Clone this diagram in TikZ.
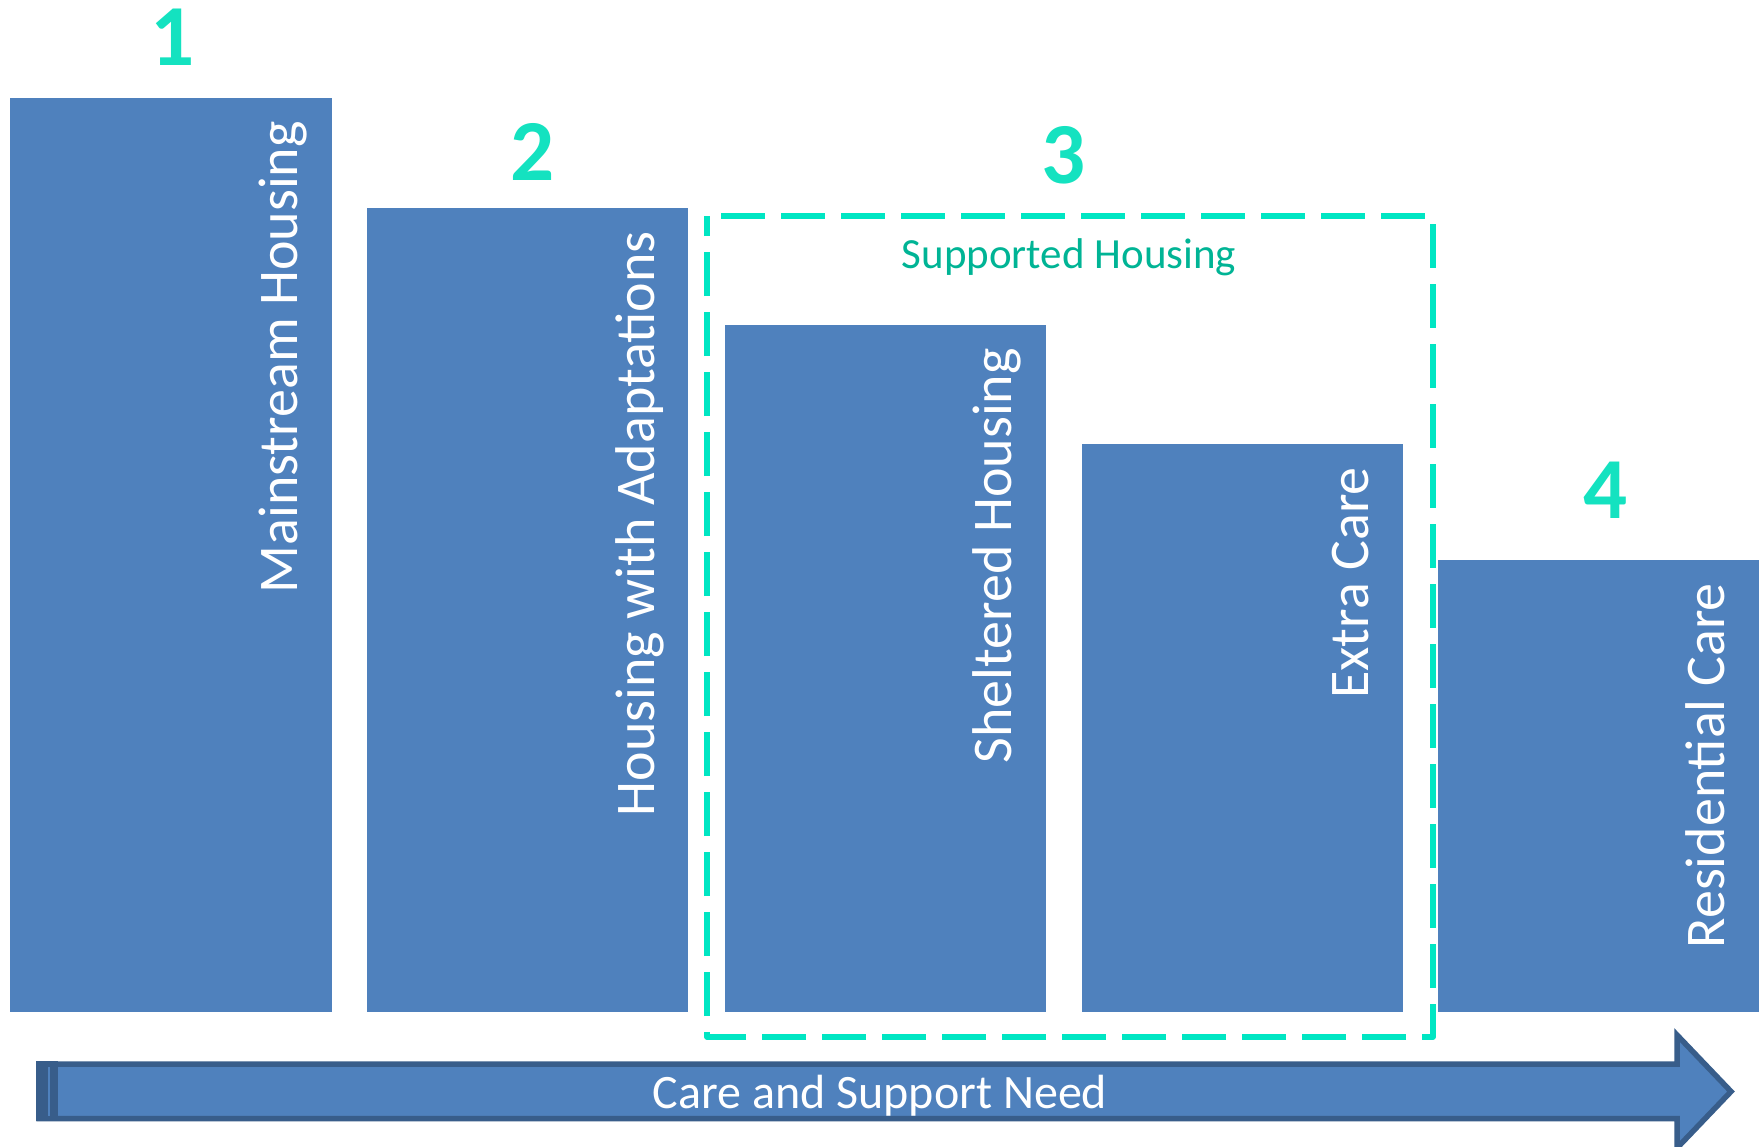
\documentclass[tikz,border=0pt]{standalone}
\usepackage{fontspec}
\setmainfont{Carlito}
\definecolor{boxblue}{HTML}{4F81BD}
\definecolor{arrowedge}{HTML}{385D8A}
\definecolor{dashteal}{HTML}{00E6C3}
\definecolor{labelteal}{HTML}{00B495}
\definecolor{numteal}{HTML}{14E2C0}
\tikzset{
  bar/.style={fill=boxblue, draw=none, anchor=north west, inner sep=0pt, minimum width=321pt},
  vlabel/.style={rotate=90, anchor=base east, inner sep=0pt, text=white, font=\fontsize{56}{67}\selectfont},
  numlabel/.style={inner sep=0pt, text=numteal, font=\bfseries\fontsize{87}{100}\selectfont},
  grouplabel/.style={anchor=base, inner sep=0pt, text=labelteal, font=\fontsize{43}{52}\selectfont},
  arrowlabel/.style={anchor=base, inner sep=0pt, text=white, font=\fontsize{48}{58}\selectfont},
}
\begin{document}
\begin{tikzpicture}[x=1pt,y=-1pt]
\useasboundingbox (0,0) rectangle (1759,1146);
\fill[white] (0,0) rectangle (1759,1146);
% bars
\node[bar, minimum width=322pt, minimum height=914pt] (b1) at (10,98) {};
\node[bar, minimum height=804pt] (b2) at (367,208) {};
\node[bar, minimum height=687pt] (b3) at (725,325) {};
\node[bar, minimum height=568pt] (b4) at (1082,444) {};
\node[bar, minimum width=330pt, minimum height=452pt] (b5) at (1438,560) {};
% labels in bars
\node[vlabel] (l1) at (297,121) {Mainstream Housing};
\node[vlabel] (l2) at (654,231) {Housing with Adaptations};
\node[vlabel] (l3) at (1011,348) {Sheltered Housing};
\node[vlabel] (l4) at (1368,467) {Extra Care};
\node[vlabel] (l5) at (1724,583) {Residential Care};
% numbers
\node[numlabel] (n1) at (173,37) {1};
\node[numlabel] (n2) at (533,152) {2};
\node[numlabel] (n3) at (1064,155) {3};
\node[numlabel] (n4) at (1606,490) {4};
% supported housing group
\draw[dashteal, line width=5.5pt, dash pattern=on 44pt off 16pt, dash phase=46pt, line join=round]
  (707,216) -- (1433,216) -- (1433,1037) -- (707,1037) -- cycle;
\node[grouplabel] (sh) at (1069,268) {Supported Housing};
% arrow
\draw[fill=boxblue, draw=arrowedge, line width=5.5pt, line join=miter]
  (39,1064) -- (1677,1064) -- (1677,1035) -- (1731,1091.5) -- (1677,1148) -- (1677,1118.5) -- (39,1118.5) -- cycle;
\fill[arrowedge] (36,1061) rectangle (58,1121);
\draw[boxblue, line width=1.5pt] (49,1067) -- (49,1116);
\node[arrowlabel] (need) at (880,1108) {Care and Support Need};
\end{tikzpicture}
\end{document}
